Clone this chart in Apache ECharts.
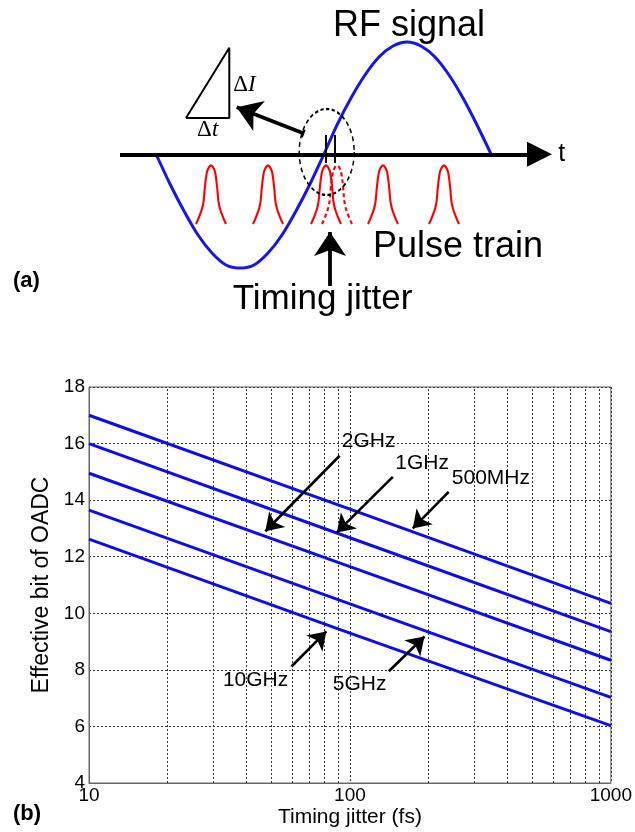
<!DOCTYPE html>
<html><head><meta charset="utf-8">
<script src="https://cdn.jsdelivr.net/npm/echarts@6/dist/echarts.min.js"></script>
<style>html,body{margin:0;padding:0;background:#fff}#c{width:635px;height:832px}</style>
</head><body><div id="c"></div>
<script>
// ================= Panel (b) data =================
const jitterFs   = [10, 100, 1000];
const bits500MHz = [17.00, 13.68, 10.35];
const bits1GHz   = [16.00, 12.67, 9.35];
const bits2GHz   = [14.95, 11.65, 8.34];
const bits5GHz   = [13.65, 10.33, 7.03];
const bits10GHz  = [12.62, 9.30, 6.03];
const seriesNames = ['500MHz', '1GHz', '2GHz', '5GHz', '10GHz'];
const yTickMin = 4, yTickMax = 18, yTickStep = 2;
const minorJitterGrid = [20, 30, 40, 50, 60, 70, 80, 90, 200, 300, 400, 500, 600, 700, 800, 900];
const annotNames = ['2GHz', '1GHz', '500MHz', '10GHz', '5GHz'];
const annotAt    = [[118, 16.07], [189, 15.32], [347, 14.76], [43.5, 7.65], [109, 7.48]];
const arrowFrom  = [[91.3, 15.57], [146, 14.82], [239, 14.29], [59.7, 8.12], [141, 7.95]];
const arrowTo    = [[47.4, 12.90], [89.1, 12.86], [174.1, 13.00], [81.2, 9.36], [193.1, 9.18]];

// ================= Panel (a) schematic data (diagram units) =================
const sineT = [156, 170, 184, 198, 212, 226, 240, 254, 268, 282, 296, 310, 324,
               337, 351, 365, 379, 393, 407, 421, 435, 449, 463, 477, 491];
const sineA = [154, 184, 211, 235, 253, 265, 268, 265, 253, 235, 211, 184, 154,
               125, 98, 75, 57, 46, 42, 46, 57, 75, 98, 125, 154];
const pulseCenters = [211, 268, 326, 383, 444];
const jitteredPulseCenters = [337];
const pulseDx = [-15, -11.7, -8, -6.2, -4.6, -3, 0, 3, 4.6, 6.2, 8, 11.7, 15];
const pulseH  = [0, 7.6, 19.3, 36, 49, 55, 58.6, 55, 49, 36, 19.3, 7.6, 0];
const pulseBase = 224;
const timeAxisFrom = [120, 154.3], timeAxisTo = [539.5, 154.3];
const slopeArrowFrom = [303.3, 133.3], slopeArrowTo = [236.7, 107.3];
const jitterArrowFrom = [330, 286], jitterArrowTo = [330, 232];
const triangle = [[186, 118], [229.3, 118], [229.3, 47.7], [186, 118]];
const sampleMarks = [[[326, 135], [326, 163]], [[334.5, 135], [334.5, 163]]];
const tailTick = [[301.9, 137.2], [304.7, 129.6]];
const ellipseCenter = [326.7, 152];

const chart = echarts.init(document.getElementById('c'), null, {renderer: 'canvas'});
const FONT = '"Liberation Sans", Arial, sans-serif';
const SERIF = '"Liberation Serif", "Times New Roman", serif';

const series = [];
// ---- (b) curves
[bits500MHz, bits1GHz, bits2GHz, bits5GHz, bits10GHz].forEach((arr, i) => {
  series.push({
    type: 'line', name: seriesNames[i], xAxisIndex: 0, yAxisIndex: 0,
    data: jitterFs.map((x, j) => [x, arr[j]]),
    symbol: 'none', lineStyle: {color: '#0c0cf2', width: 3}, z: 4, silent: true
  });
});
// minor vertical grid lines
series.push({
  type: 'line', xAxisIndex: 0, yAxisIndex: 0, data: [], silent: true,
  markLine: {silent: true, symbol: 'none', label: {show: false},
    lineStyle: {color: '#333', type: [2, 2], width: 1},
    data: minorJitterGrid.map(v => ({xAxis: v}))}
});
// annotation arrows
series.push({
  type: 'lines', coordinateSystem: 'cartesian2d', xAxisIndex: 0, yAxisIndex: 0,
  symbol: ['none', 'arrow'], symbolSize: [11, 17], z: 6,
  lineStyle: {color: '#000', width: 2.6, opacity: 1},
  data: arrowFrom.map((f, i) => ({coords: [f, arrowTo[i]]}))
});
// annotation texts
series.push({
  type: 'scatter', xAxisIndex: 0, yAxisIndex: 0, symbolSize: 1, z: 7,
  itemStyle: {color: 'rgba(0,0,0,0)', opacity: 1},
  label: {show: true, position: 'inside', formatter: p => p.data.name,
    fontFamily: FONT, fontSize: 21, color: '#000', opacity: 1},
  data: annotAt.map((p, i) => ({value: p, name: annotNames[i]}))
});

// ---- (a) schematic
const D = {xAxisIndex: 1, yAxisIndex: 1};
series.push(Object.assign({
  type: 'line', data: sineT.map((t, i) => [t, sineA[i]]), smooth: 0.3,
  symbol: 'none', lineStyle: {color: '#1616e6', width: 3}, z: 3
}, D));
pulseCenters.forEach(c => series.push(Object.assign({
  type: 'line', data: pulseDx.map((d, j) => [c + d, pulseBase - pulseH[j]]), smooth: 0.45,
  symbol: 'none', lineStyle: {color: '#ff0000', width: 2.1}, z: 2
}, D)));
jitteredPulseCenters.forEach(c => series.push(Object.assign({
  type: 'line', data: pulseDx.map((d, j) => [c + d, pulseBase - pulseH[j]]), smooth: 0.45,
  symbol: 'none', lineStyle: {color: '#ff0000', width: 2.1, type: [4, 3]}, z: 2
}, D)));
series.push(Object.assign({
  type: 'line', data: triangle, symbol: 'none', lineStyle: {color: '#000', width: 2}
}, D));
series.push(Object.assign({
  type: 'lines', coordinateSystem: 'cartesian2d', symbol: ['none', 'none'],
  lineStyle: {color: '#000', width: 2, opacity: 1}, z: 5,
  data: sampleMarks.concat([tailTick]).map(s => ({coords: s}))
}, D));
series.push(Object.assign({
  type: 'lines', coordinateSystem: 'cartesian2d', symbol: ['none', 'triangle'], symbolSize: [17, 25],
  lineStyle: {color: '#000', width: 3.8, opacity: 1}, z: 4,
  data: [{coords: [timeAxisFrom, timeAxisTo]}]
}, D));
series.push(Object.assign({
  type: 'lines', coordinateSystem: 'cartesian2d', symbol: ['none', 'arrow'], symbolSize: [14, 24],
  lineStyle: {color: '#000', width: 3.8, opacity: 1}, z: 5,
  data: [{coords: [slopeArrowFrom, slopeArrowTo]}, {coords: [jitterArrowFrom, jitterArrowTo]}]
}, D));
series.push(Object.assign({
  type: 'scatter', data: [ellipseCenter], symbol: 'circle', symbolSize: [55, 86], z: 6,
  itemStyle: {color: 'rgba(0,0,0,0)', opacity: 1, borderColor: '#000', borderWidth: 1.8, borderType: [4, 3]}
}, D));
const diagramTexts = [
  {value: [409, 26], name: 'RF signal', fs: 36},
  {value: [458, 247], name: 'Pulse train', fs: 36},
  {value: [322.5, 299], name: 'Timing jitter', fs: 35},
  {value: [561.7, 154.5], name: 't', fs: 25}
];
series.push(Object.assign({
  type: 'scatter', symbolSize: 1, itemStyle: {color: 'rgba(0,0,0,0)', opacity: 1}, z: 7,
  data: diagramTexts.map(d => ({value: d.value, name: d.name,
    label: {show: true, position: 'inside', formatter: d.name, fontFamily: FONT, fontSize: d.fs, color: '#000', opacity: 1}}))
}, D));
series.push(Object.assign({
  type: 'scatter', symbolSize: 1, itemStyle: {color: 'rgba(0,0,0,0)', opacity: 1}, z: 7,
  label: {show: true, position: 'inside', opacity: 1,
    rich: {d: {fontFamily: SERIF, fontSize: 23, color: '#000'},
           v: {fontFamily: SERIF, fontSize: 23, fontStyle: 'italic', color: '#000'}}},
  data: [
    {value: [244.5, 85], label: {formatter: '{d|Δ}{v|I}'}},
    {value: [207.7, 130], label: {formatter: '{d|Δ}{v|t}'}}
  ]
}, D));

const option = {
  animation: false,
  backgroundColor: '#fff',
  grid: [
    {left: 89, top: 387, width: 523, height: 396, show: true, borderColor: '#666', borderWidth: 1, backgroundColor: 'transparent'},
    {left: 0, top: 0, width: 635, height: 330, show: false}
  ],
  xAxis: [
    {type: 'log', logBase: 10, min: 10, max: 1000, gridIndex: 0,
     name: 'Timing jitter (fs)', nameLocation: 'middle', nameGap: 24,
     nameTextStyle: {fontFamily: FONT, fontSize: 21, color: '#000'},
     axisLine: {show: true, lineStyle: {color: '#666', width: 1}},
     axisTick: {show: false},
     axisLabel: {fontFamily: FONT, fontSize: 19, color: '#000', margin: 3, formatter: v => String(Math.round(v))},
     splitLine: {show: true, lineStyle: {color: '#333', type: [2, 2], width: 1}}},
    {type: 'value', gridIndex: 1, min: 0, max: 635, show: false}
  ],
  yAxis: [
    {type: 'value', min: yTickMin, max: yTickMax, interval: yTickStep, gridIndex: 0,
     name: 'Effective bit of OADC', nameLocation: 'middle', nameGap: 32, nameRotate: 90,
     nameTextStyle: {fontFamily: FONT, fontSize: 23, color: '#000'},
     axisLine: {show: true, lineStyle: {color: '#666', width: 1}},
     axisTick: {show: false},
     axisLabel: {fontFamily: FONT, fontSize: 19, color: '#000', margin: 4},
     splitLine: {show: true, lineStyle: {color: '#333', type: [2, 2], width: 1}}},
    {type: 'value', gridIndex: 1, min: 0, max: 330, inverse: true, show: false}
  ],
  graphic: [
    {type: 'text', left: 13, top: 270, style: {text: '(a)', font: 'bold 22px "Liberation Sans", Arial, sans-serif', fill: '#000'}},
    {type: 'text', left: 13, top: 803, style: {text: '(b)', font: 'bold 22px "Liberation Sans", Arial, sans-serif', fill: '#000'}}
  ],
  series: series
};
chart.setOption(option);
</script>
</body></html>
